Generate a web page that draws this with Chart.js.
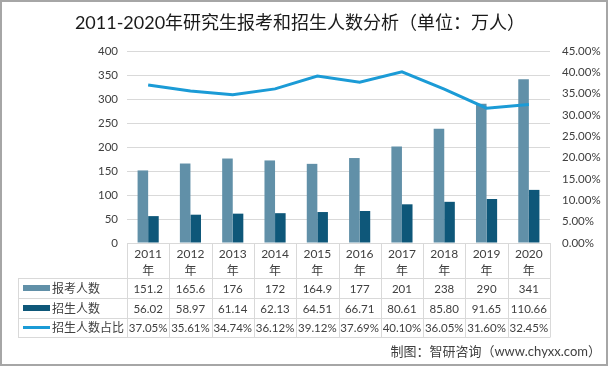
<!DOCTYPE html>
<html>
<head>
<meta charset="utf-8">
<script src="https://cdn.jsdelivr.net/npm/chart.js@4.4.1/dist/chart.umd.min.js"></script>
<style>
  html, body { margin: 0; padding: 0; background: #fff; }
  #wrap { width: 608px; height: 366px; }
</style>
</head>
<body>
<div id="wrap"><canvas id="chart" width="608" height="366"></canvas></div>
<script>
// --- data ---
const years = ['2011', '2012', '2013', '2014', '2015', '2016', '2017', '2018', '2019', '2020'];
const applicants = [151.2, 165.6, 176, 172, 164.9, 177, 201, 238, 290, 341];
const admitted = [56.02, 58.97, 61.14, 62.13, 64.51, 66.71, 80.61, 85.80, 91.65, 110.66];
const ratio = [37.05, 35.61, 34.74, 36.12, 39.12, 37.69, 40.10, 36.05, 31.60, 32.45];

const seriesNames = ['报考人数', '招生人数', '招生人数占比'];
const colors = ['#6190a8', '#0e5779', '#1b9bd6'];

const FONT = 'Lato, "Noto Sans CJK SC", sans-serif';
const textColor = '#404040';
const lineColor = '#d9d9d9';

// rows of the data table under the axis
const tableRows = [
    applicants.map(v => String(v)),
    admitted.map(v => v.toFixed(2)),
    ratio.map(v => v.toFixed(2) + '%')
];

const tablePlugin = {
    id: 'tablePlugin',
    beforeDraw(chart) {
        const ctx = chart.ctx;
        ctx.save();
        ctx.fillStyle = '#fff';
        ctx.fillRect(0, 0, chart.width, chart.height);
        ctx.restore();
    },
    afterDraw(chart) {
        const ctx = chart.ctx;
        const x = chart.scales.x;
        const area = chart.chartArea;
        const catW = (x.right - x.left) / years.length;
        const top = area.bottom;
        const rowTop = top + 35;
        const rowLines = [rowTop, rowTop + 20, rowTop + 40, rowTop + 59];
        const tableLeft = 18;

        ctx.save();
        ctx.strokeStyle = lineColor;
        ctx.lineWidth = 1;
        ctx.beginPath();
        rowLines.forEach(y => {
            ctx.moveTo(tableLeft, Math.round(y) + 0.5);
            ctx.lineTo(x.right, Math.round(y) + 0.5);
        });
        for (let i = 0; i <= years.length; i++) {
            const px = Math.round(x.left + i * catW) + 0.5;
            ctx.moveTo(px, top);
            ctx.lineTo(px, rowLines[3] + 0.5);
        }
        ctx.moveTo(tableLeft + 0.5, rowTop);
        ctx.lineTo(tableLeft + 0.5, rowLines[3] + 0.5);
        ctx.stroke();

        // values
        ctx.fillStyle = textColor;
        ctx.font = '11.5px ' + FONT;
        ctx.textAlign = 'center';
        ctx.textBaseline = 'middle';
        tableRows.forEach((row, r) => {
            const cy = (rowLines[r] + rowLines[r + 1]) / 2 + 1;
            row.forEach((txt, i) => {
                ctx.fillText(txt, x.getPixelForValue(i), cy);
            });
        });

        // legend keys in the first column
        ctx.textAlign = 'left';
        ctx.font = '12px ' + FONT;
        seriesNames.forEach((name, r) => {
            const cy = (rowLines[r] + rowLines[r + 1]) / 2;
            ctx.fillStyle = colors[r];
            if (r < 2) {
                ctx.fillRect(23, cy - 3, 27, 6);
            } else {
                ctx.fillRect(23, cy - 1.5, 27, 3);
            }
            ctx.fillStyle = textColor;
            ctx.fillText(name, 52, cy + 1);
        });

        // title
        ctx.fillStyle = '#1a1a1a';
        ctx.font = '18px ' + FONT;
        ctx.textAlign = 'center';
        ctx.fillText('2011-2020年研究生报考和招生人数分析（单位：万人）', 300, 23);

        // source note
        ctx.fillStyle = textColor;
        ctx.font = '13px ' + FONT;
        ctx.textAlign = 'right';
        ctx.fillText('制图：智研咨询（www.chyxx.com）', 601, 352);

        // outer frame
        ctx.strokeStyle = '#a6a6a6';
        ctx.lineWidth = 2;
        ctx.strokeRect(1, 1, chart.width - 2, chart.height - 2);
        ctx.restore();
    }
};

new Chart(document.getElementById('chart'), {
    type: 'bar',
    data: {
        labels: years.map(y => [y, '年']),
        datasets: [
            {
                type: 'line',
                label: seriesNames[2],
                data: ratio.map(v => v / 100),
                yAxisID: 'y1',
                borderColor: colors[2],
                borderWidth: 3,
                pointRadius: 0,
                tension: 0,
                order: 0
            },
            {
                label: seriesNames[0],
                data: applicants,
                backgroundColor: colors[0],
                categoryPercentage: 0.5,
                barPercentage: 1,
                order: 1
            },
            {
                label: seriesNames[1],
                data: admitted,
                backgroundColor: colors[1],
                categoryPercentage: 0.5,
                barPercentage: 1,
                order: 1
            }
        ]
    },
    options: {
        responsive: false,
        animation: false,
        layout: { padding: { top: 51, left: 0, right: 0, bottom: 0 } },
        plugins: {
            legend: { display: false },
            tooltip: { enabled: false },
            title: { display: false }
        },
        scales: {
            x: {
                grid: { display: false },
                border: { display: true, color: lineColor },
                ticks: {
                    color: textColor,
                    font: { family: FONT, size: 12, lineHeight: 1.4 },
                    padding: -5,
                    maxRotation: 0,
                    autoSkip: false
                },
                afterFit: s => { s.height = 123; }
            },
            y: {
                position: 'left',
                min: 0,
                max: 400,
                ticks: {
                    stepSize: 50,
                    color: textColor,
                    font: { family: FONT, size: 11.5 },
                    padding: 9
                },
                grid: { color: lineColor, drawTicks: false },
                border: { display: false },
                afterFit: s => { s.width = 127; }
            },
            y1: {
                position: 'right',
                min: 0,
                max: 0.45,
                ticks: {
                    stepSize: 0.05,
                    color: textColor,
                    font: { family: FONT, size: 11.5 },
                    padding: 12,
                    callback: v => (v * 100).toFixed(2) + '%'
                },
                grid: { display: false, drawTicks: false },
                border: { display: false },
                afterFit: s => { s.width = 58; }
            }
        }
    },
    plugins: [tablePlugin]
});
</script>
</body>
</html>
